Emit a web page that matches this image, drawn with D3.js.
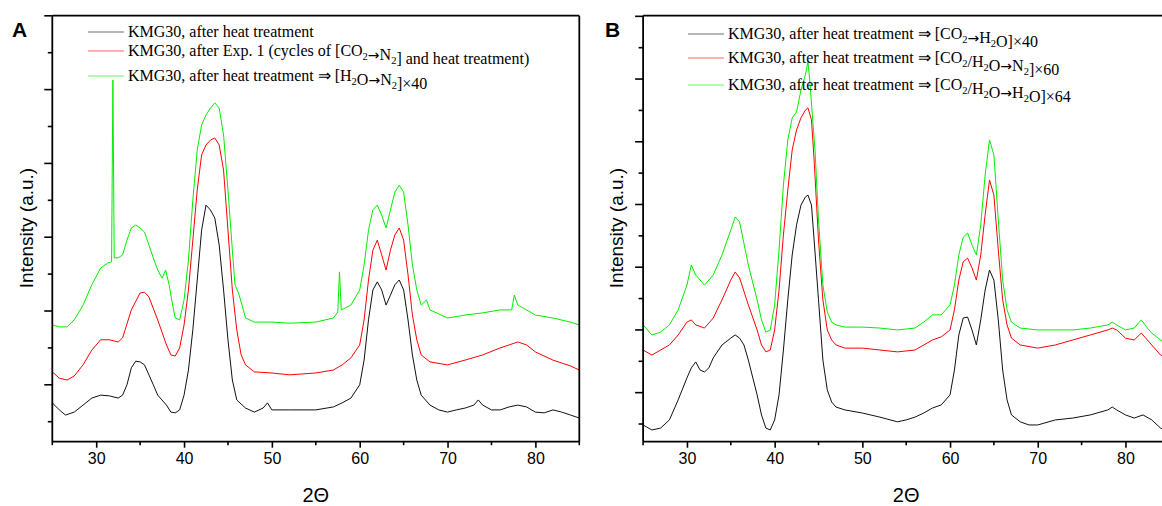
<!DOCTYPE html>
<html><head><meta charset="utf-8">
<script src="https://cdn.jsdelivr.net/npm/d3@7"></script>
<style>body{margin:0;background:#fff}</style>
</head><body><svg id="c" width="1162" height="506" xmlns="http://www.w3.org/2000/svg"></svg>
<script>
// ---------- data (2Θ, intensity a.u.) ----------
const xTicks = [30, 40, 50, 60, 70, 80];
const xMinorTicks = [25, 35, 45, 55, 65, 75, 85];
const yTicksA = [100,200,300,400,500,600,700,800,900,1000,1100,1200];
const yTicksB = [100,200,300,400,500,600,700,800,900,1000,1100,1200,1300,1400];

const legendA = [
  "KMG30, after heat treatment",
  "KMG30, after Exp. 1 (cycles of [CO_2→N_2] and heat treatment)",
  "KMG30, after heat treatment ⇒ [H_2O→N_2]×40"
];
const legendB = [
  "KMG30, after heat treatment ⇒ [CO_2→H_2O]×40",
  "KMG30, after heat treatment ⇒ [CO_2/H_2O→N_2]×60",
  "KMG30, after heat treatment ⇒ [CO_2/H_2O→H_2O]×64"
];

const blackA = [[25,151],[25.8,132],[26.5,118],[27.5,126],[28.5,145],[29.5,164],[30.5,172],[31.5,170],[32.5,164],[33,172],[33.5,200],[34,246],[34.5,264],[35,262],[35.5,254],[36,227],[36.5,200],[37,172],[38,145],[38.5,126],[39,124],[39.5,132],[40,172],[40.5,240],[41,349],[41.5,484],[42,619],[42.5,687],[43,674],[43.5,652],[44,579],[44.5,457],[45,322],[45.5,213],[46,159],[47,137],[48,126],[49,137],[49.5,151],[50,132],[52,132],[55,132],[57,140],[58,151],[59,164],[60,200],[60.5,267],[61,376],[61.5,457],[62,479],[62.5,457],[63,416],[63.5,443],[64,471],[64.5,484],[65,457],[65.5,376],[66,281],[66.5,213],[67,172],[68,145],[69,132],[70,126],[71,132],[72,137],[73,145],[73.5,159],[74,145],[75,132],[76,132],[77,140],[78,145],[79,140],[80,126],[81,124],[82,132],[83,126],[84,118],[85,110]];

const redA = [[25,235],[25.8,218],[26.7,213],[27.5,224],[28.5,254],[29.5,294],[30.5,322],[31.5,322],[32.5,316],[33,327],[34,403],[35,449],[35.5,451],[36,438],[37,376],[38,308],[38.5,281],[39,278],[39.5,300],[40,362],[40.5,457],[41,592],[41.5,728],[42,823],[42.5,850],[43,863],[43.5,869],[44,850],[44.5,782],[45,619],[45.5,457],[46,349],[46.5,281],[47,254],[48,235],[50,232],[52,227],[55,232],[57,240],[58,254],[59,273],[60,308],[60.5,376],[61,484],[61.5,565],[62,592],[62.5,552],[63,511],[63.5,565],[64,606],[64.5,625],[65,592],[65.5,498],[66,389],[66.5,322],[67,281],[68,262],[70,254],[72,267],[74,281],[76,300],[77,308],[78,316],[79,308],[80,289],[82,267],[84,251],[85,240]];

const greenA = [[25,362],[25.8,357],[26.7,357],[27.5,376],[28.5,416],[29.5,471],[30.5,516],[31.3,530],[31.75,533],[31.9,1026],[32.05,544],[32.5,544],[33,552],[33.5,592],[34,625],[34.5,633],[35,625],[35.5,614],[36,579],[36.5,544],[37,511],[37.5,489],[37.9,511],[38.3,471],[38.7,416],[39,381],[39.5,376],[40,430],[40.5,538],[41,701],[41.5,836],[42,904],[42.5,931],[43,950],[43.5,964],[44,950],[44.5,877],[45,728],[45.5,565],[45.8,471],[46.2,449],[46.6,416],[47,381],[48,370],[50,370],[52,367],[55,370],[57,381],[57.5,397],[57.7,506],[57.9,403],[59,416],[60,457],[60.5,525],[61,619],[61.5,674],[62,687],[62.5,660],[63,625],[63.5,674],[64,722],[64.5,741],[65,722],[65.5,633],[66,525],[66.5,457],[67,416],[67.6,430],[68,403],[70,381],[72,389],[74,395],[76,403],[77.3,403],[77.6,443],[78,416],[79,403],[80,389],[82,381],[84,370],[85,362]];

const blackB = [[25,97],[26,81],[27,87],[28,113],[29,177],[30,247],[30.5,279],[31,298],[31.5,272],[32,266],[32.5,279],[33,311],[34,352],[35,374],[35.5,384],[36,374],[36.5,352],[37,304],[38,193],[38.5,129],[39,87],[39.5,81],[40,113],[40.5,193],[41,336],[41.5,496],[42,639],[42.5,735],[43,798],[43.5,824],[43.8,830],[44.2,798],[44.5,687],[45,496],[45.5,304],[46,209],[46.5,170],[47,154],[48,145],[50,135],[52,122],[54,107],[55,113],[56,122],[57,135],[58,151],[59,161],[60,193],[60.5,272],[61,384],[61.5,438],[62,441],[62.5,400],[63,352],[63.5,432],[64,527],[64.5,591],[65,559],[65.5,432],[66,272],[66.5,177],[67,129],[68,107],[69,97],[70,97],[72,113],[74,119],[76,129],[78,145],[78.5,154],[79,145],[80,129],[81,119],[82,129],[83,113],[84,87],[85,74]];

const redB = [[25,336],[26,320],[27,336],[28,352],[29,384],[30,425],[30.5,432],[31,416],[32,406],[33,438],[34,496],[35,559],[35.5,585],[36,566],[37,480],[38,400],[38.5,352],[39,330],[39.5,336],[40,400],[40.5,527],[41,703],[41.5,846],[42,974],[42.5,1038],[43,1076],[43.5,1101],[43.8,1108],[44.2,1070],[44.5,942],[45,687],[45.5,496],[46,400],[46.5,368],[47,352],[48,342],[50,342],[52,336],[54,330],[56,336],[57,352],[58,368],[59,378],[60,400],[60.5,464],[61,559],[61.5,617],[62,629],[62.5,598],[63,559],[63.5,639],[64,767],[64.5,878],[65,830],[65.5,655],[66,496],[66.5,416],[67,374],[68,352],[70,342],[72,352],[74,368],[76,384],[78,400],[78.5,406],[79,400],[80,374],[81,368],[81.8,390],[82.5,368],[83,352],[84,320],[85,304]];

const greenB = [[25,416],[26,384],[27,393],[28,416],[29,464],[30,543],[30.5,607],[31,575],[32,543],[33,575],[34,639],[35,719],[35.5,760],[36,744],[37,607],[38,496],[38.5,432],[39,393],[39.5,400],[40,480],[40.5,655],[41,862],[41.5,1006],[42,1076],[42.5,1095],[43,1165],[43.5,1213],[43.8,1255],[44,1197],[44.3,1085],[44.6,974],[45,751],[45.5,543],[46,457],[46.5,425],[47,416],[48,409],[50,409],[52,406],[54,400],[56,406],[57,425],[58,448],[59,448],[60,480],[60.5,543],[61,639],[61.5,696],[62,709],[62.5,671],[63,639],[63.5,735],[64,894],[64.5,1006],[65,958],[65.5,751],[66,559],[66.5,464],[67,425],[68,406],[70,400],[72,400],[74,400],[76,406],[78,416],[78.5,425],[79,416],[80,400],[81,406],[81.8,432],[82.5,406],[83,390],[84,368],[85,352]];

// ---------- drawing ----------
const svg = d3.select("#c");
const colors = ["#111111", "#ff0000", "#00ee00"];

const panels = [
  {id:"A", label:"A", series:[blackA, redA, greenA], legend:legendA, yTicks:yTicksA,
   yDomain:[45.8, 1200.3], xRange:[52.3, 579.3], rightBorder:true,
   legX:88, legLen:36, legY:[32, 51, 76], labelX:12, yLabX:33},
  {id:"B", label:"B", series:[blackB, redB, greenB], legend:legendB, yTicks:yTicksB,
   yDomain:[43.6, 1402], xRange:[643.1, 1169.3], rightBorder:true,
   legX:688, legLen:36, legY:[34, 58, 85], labelX:605, yLabX:623}
];
const plotTop = 15.7, plotBottom = 441.7;

panels.forEach(p => {
  const x = d3.scaleLinear().domain([25, 85]).range(p.xRange);
  const y = d3.scaleLinear().domain(p.yDomain).range([plotBottom, plotTop]);
  const g = svg.append("g");

  g.append("clipPath").attr("id", "clip" + p.id)
    .append("rect").attr("x", p.xRange[0]).attr("y", plotTop)
    .attr("width", p.xRange[1] - p.xRange[0]).attr("height", plotBottom - plotTop);

  const line = d3.line().x(d => x(d[0])).y(d => y(d[1]));
  const plot = g.append("g").attr("clip-path", `url(#clip${p.id})`);
  p.series.forEach((s, i) => {
    plot.append("path").attr("d", line(s)).attr("fill", "none")
      .attr("stroke", colors[i]).attr("stroke-width", 1).attr("stroke-linejoin", "round");
  });

  // x axis
  const xa = g.append("g").attr("transform", `translate(0,${plotBottom})`)
    .call(d3.axisBottom(x).tickValues(xTicks).tickSize(6).tickPadding(5).tickFormat(d3.format("d")));
  xa.select(".domain").remove();
  xa.selectAll("line").attr("stroke", "#000").attr("stroke-width", 1.6);
  xa.selectAll("text").attr("font-family", "Liberation Sans, Arial, sans-serif").attr("font-size", 16).attr("fill", "#000");
  xMinorTicks.forEach(v => {
    g.append("line").attr("x1", x(v)).attr("x2", x(v)).attr("y1", plotBottom).attr("y2", plotBottom + 3.5)
      .attr("stroke", "#000").attr("stroke-width", 1.6);
  });

  // y ticks (no labels)
  p.yTicks.forEach(v => {
    const major = v % 200 === 0;
    g.append("line").attr("x1", p.xRange[0]).attr("x2", p.xRange[0] - (major ? 8 : 4.5))
      .attr("y1", y(v)).attr("y2", y(v)).attr("stroke", "#000").attr("stroke-width", 1.6);
  });

  // frame
  const frame = g.append("g").attr("stroke", "#000").attr("stroke-width", 1.8).attr("fill", "none");
  frame.append("line").attr("x1", p.xRange[0]).attr("x2", p.xRange[1]).attr("y1", plotBottom).attr("y2", plotBottom);
  frame.append("line").attr("x1", p.xRange[0]).attr("x2", p.xRange[1]).attr("y1", plotTop).attr("y2", plotTop);
  frame.append("line").attr("x1", p.xRange[0]).attr("x2", p.xRange[0]).attr("y1", plotTop).attr("y2", plotBottom);
  if (p.rightBorder) frame.append("line").attr("x1", p.xRange[1]).attr("x2", p.xRange[1]).attr("y1", plotTop).attr("y2", plotBottom);

  // axis titles
  g.append("text").attr("x", (p.xRange[0] + p.xRange[1]) / 2).attr("y", 502)
    .attr("text-anchor", "middle").attr("font-family", "Liberation Sans, Arial, sans-serif")
    .attr("font-size", 20).text("2Θ");
  g.append("text").attr("transform", `translate(${p.yLabX},228) rotate(-90)`)
    .attr("text-anchor", "middle").attr("font-family", "Liberation Sans, Arial, sans-serif")
    .attr("font-size", 19).text("Intensity (a.u.)");

  // panel letter
  g.append("text").attr("x", p.labelX).attr("y", 37).attr("font-family", "Liberation Sans, Arial, sans-serif")
    .attr("font-weight", "bold").attr("font-size", 21).text(p.label);

  // legend
  p.legend.forEach((txt, i) => {
    const ly = p.legY[i];
    g.append("line").attr("x1", p.legX).attr("x2", p.legX + p.legLen).attr("y1", ly).attr("y2", ly)
      .attr("stroke", colors[i]).attr("stroke-width", 1).attr("opacity", 0.6);
    const t = g.append("text").attr("x", p.legX + p.legLen + 4).attr("y", ly + 5)
      .attr("font-family", "Liberation Serif, Times New Roman, serif").attr("font-size", 16).attr("fill", "#000");
    const parts = txt.split(/_(\d)/);
    parts.forEach((s, k) => {
      if (s === "") return;
      if (k % 2 === 1) {
        t.append("tspan").attr("dy", 4).attr("font-size", 10.5).text(s);
        t.append("tspan").attr("dy", -4).text("");
      } else {
        s.split(/(→)/).forEach(seg => {
          if (seg === "") return;
          if (seg === "→") t.append("tspan").attr("font-family", "DejaVu Sans, sans-serif").attr("font-size", 14).text(seg);
          else t.append("tspan").text(seg);
        });
      }
    });
  });
});
</script>
</body></html>
